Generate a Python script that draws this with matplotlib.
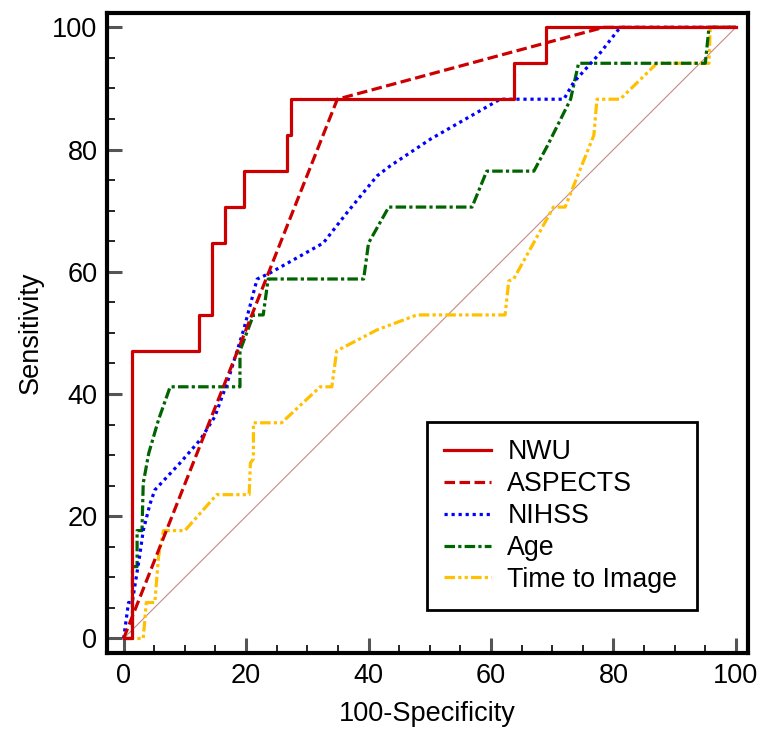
import matplotlib
matplotlib.use("Agg")
import matplotlib.pyplot as plt
from matplotlib.ticker import MultipleLocator

plt.rcParams['font.family'] = ['Liberation Sans', 'DejaVu Sans']

# ---------------------------
# ROC data
# ---------------------------
nwu_x = [0, 1.4, 12.3, 14.5, 16.6, 19.7, 26.6, 27.4, 63.8, 69.0, 100]
nwu_y = [0, 47.06, 52.94, 64.71, 70.59, 76.47, 82.35, 88.24, 94.12, 100, 100]

aspects_x = [0, 34.9, 78.4, 100]
aspects_y = [0, 88.24, 100, 100]

nihss_x = [0, 0.8, 1.4, 2.6, 3.2, 4.3, 5.1, 9.2, 12.5, 14.9, 16.9, 19.6, 21.8,
           23.9, 32.6, 36.5, 41.4, 43.5, 50.1, 61.5, 71.9, 73.5, 77.9, 81.1, 100]
nihss_y = [0, 5.88, 5.88, 13.4, 17.65, 22.0, 24.3, 28.7, 32.5, 36.3, 41.8, 50.5, 58.8,
           59.8, 64.7, 69.7, 75.7, 77.3, 81.7, 88.24, 88.24, 91.0, 95.9, 100, 100]

age_x = [0, 1.44, 1.44, 2.2, 2.2, 3.0, 3.2, 4.1, 5.7, 7.6, 19.0, 19.0, 21.2, 22.8,
         23.6, 39.2, 40.0, 43.3, 56.9, 59.3, 67.0, 69.2, 73.0, 74.3, 95.0, 95.6, 100]
age_y = [0, 0, 11.76, 11.76, 17.65, 17.65, 25.4, 30.3, 35.8, 41.18, 41.18, 47.06, 52.94, 52.94,
         58.82, 58.82, 64.71, 70.59, 70.59, 76.47, 76.47, 80.6, 88.24, 94.12, 94.12, 100, 100]

tti_x = [0, 3.2, 3.7, 5.1, 5.7, 6.5, 10.0, 15.2, 20.5, 20.7, 21.2, 21.2, 25.8, 32.1,
         34.0, 34.8, 41.4, 47.9, 62.3, 62.9, 63.7, 70.2, 72.1, 76.8, 77.3, 81.1, 87.1,
         95.6, 95.8, 100]
tti_y = [0, 0, 5.88, 5.88, 13.4, 17.65, 17.65, 23.53, 23.53, 28.7, 29.4, 35.29, 35.29, 41.18,
         41.18, 47.06, 50.5, 52.94, 52.94, 58.5, 58.82, 70.59, 70.59, 82.35, 88.24, 88.24, 94.12,
         94.12, 100, 100]

# ---------------------------
# Plot
# ---------------------------
fig = plt.figure(figsize=(7.65, 7.38), dpi=100)
ax = fig.add_axes([0.140, 0.115, 0.838, 0.867])

lw = 2.3
ax.plot([0, 100], [0, 100], color='#c48a8a', lw=0.8, zorder=1)
ax.plot(tti_x, tti_y, color='#ffc000', lw=lw, ls=(0, (3.3, 1, 1, 1, 1, 1)), label='Time to Image')
ax.plot(age_x, age_y, color='#006400', lw=lw, ls=(0, (3.3, 1, 1, 1)), label='Age')
ax.plot(nihss_x, nihss_y, color='#0000ff', lw=lw, ls=(0, (1, 1.2)), label='NIHSS')
ax.plot(aspects_x, aspects_y, color='#cc0000', lw=lw, ls=(0, (3.3, 1.4)), label='ASPECTS')
ax.plot(nwu_x, nwu_y, color='#cc0000', lw=lw, drawstyle='steps-post', label='NWU')

ax.set_xlim(-2.7, 102.0)
ax.set_ylim(-2.4, 102.3)
ax.xaxis.set_major_locator(MultipleLocator(20))
ax.yaxis.set_major_locator(MultipleLocator(20))
ax.xaxis.set_minor_locator(MultipleLocator(5))
ax.yaxis.set_minor_locator(MultipleLocator(5))
ax.tick_params(which='major', direction='in', length=11, width=2.2, color='#555555',
               labelsize=19.5, pad=7)
ax.tick_params(which='minor', direction='in', length=6, width=1.2, color='black')
for s in ax.spines.values():
    s.set_linewidth(3)

ax.set_xlabel("100-Specificity", fontsize=19.5, labelpad=9)
ax.set_ylabel("Sensitivity", fontsize=19.5, labelpad=6)

handles, labels = ax.get_legend_handles_labels()
order = ['NWU', 'ASPECTS', 'NIHSS', 'Age', 'Time to Image']
hmap = dict(zip(labels, handles))
leg = ax.legend([hmap[k] for k in order], order, loc='lower left',
                bbox_to_anchor=(0.499, 0.067, 0.421, 0.294), mode='expand',
                borderaxespad=0, fontsize=19.3, fancybox=False, edgecolor='black',
                framealpha=1, handlelength=1.75, handletextpad=0.6, labelspacing=0.22,
                borderpad=0.65)
leg.get_frame().set_linewidth(2)

plt.savefig("out.png", dpi=100)
